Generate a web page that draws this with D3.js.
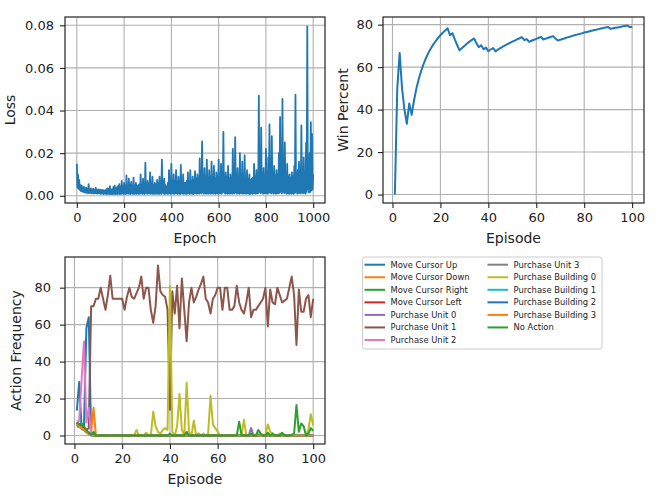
<!DOCTYPE html>
<html>
<head>
<meta charset="utf-8">
<script src="https://cdn.jsdelivr.net/npm/d3@7"></script>
<style>
body { margin: 0; background: #fff; }
text { font-family: "DejaVu Sans", sans-serif; }
</style>
</head>
<body>
<svg id="mainsvg" width="664" height="496"></svg>
<script>
// loss: upper values every 5 epochs (0..1000)
const lossPeaks = [
  0.0150,0.0100,0.0075,0.0050,0.0048,0.0040,0.0042,0.0035,0.0038,0.0032,
  0.0055,0.0030,0.0035,0.0030,0.0032,0.0028,0.0038,0.0027,0.0030,0.0028,
  0.0029,0.0026,0.0027,0.0025,0.0025,0.0030,0.0035,0.0032,0.0045,0.0030,
  0.0030,0.0042,0.0048,0.0035,0.0040,0.0045,0.0055,0.0040,0.0070,0.0045,
  0.0060,0.0050,0.0095,0.0045,0.0080,0.0050,0.0065,0.0045,0.0085,0.0050,
  0.0060,0.0045,0.0050,0.0055,0.0100,0.0050,0.0080,0.0055,0.0155,0.0060,
  0.0070,0.0055,0.0110,0.0060,0.0090,0.0050,0.0060,0.0055,0.0075,0.0060,
  0.0090,0.0065,0.0170,0.0070,0.0080,0.0050,0.0040,0.0060,0.0120,0.0070,
  0.0150,0.0065,0.0100,0.0070,0.0120,0.0065,0.0090,0.0070,0.0145,0.0065,
  0.0100,0.0060,0.0060,0.0070,0.0110,0.0065,0.0120,0.0070,0.0090,0.0075,
  0.0115,0.0080,0.0100,0.0085,0.0175,0.0080,0.0255,0.0090,0.0130,0.0085,
  0.0170,0.0080,0.0120,0.0090,0.0160,0.0085,0.0140,0.0080,0.0110,0.0090,
  0.0170,0.0085,0.0150,0.0090,0.0300,0.0085,0.0110,0.0090,0.0140,0.0080,
  0.0100,0.0085,0.0220,0.0090,0.0275,0.0095,0.0130,0.0085,0.0200,0.0090,
  0.0160,0.0090,0.0190,0.0085,0.0120,0.0080,0.0100,0.0075,0.0080,0.0085,
  0.0150,0.0090,0.0120,0.0095,0.0470,0.0100,0.0320,0.0095,0.0130,0.0100,
  0.0220,0.0110,0.0180,0.0335,0.0100,0.0280,0.0110,0.0140,0.0095,0.0120,
  0.0100,0.0200,0.0370,0.0110,0.0455,0.0120,0.0250,0.0100,0.0150,0.0090,
  0.0100,0.0085,0.0110,0.0090,0.0140,0.0475,0.0095,0.0120,0.0160,0.0100,
  0.0330,0.0110,0.0180,0.0100,0.0250,0.0795,0.0120,0.0200,0.0345,0.0290,
  0.0100
];
// lower values in between (epochs 2.5, 7.5, ... 997.5)
const lossTroughs = [
  0.0040,0.0032,0.0028,0.0022,0.0020,0.0018,0.0016,0.0015,0.0014,0.0013,
  0.0012,0.0014,0.0011,0.0013,0.0010,0.0012,0.0011,0.0010,0.0012,0.0010,
  0.0009,0.0011,0.0008,0.0010,0.0009,0.0008,0.0010,0.0007,0.0009,0.0008,
  0.0008,0.0010,0.0007,0.0009,0.0008,0.0010,0.0007,0.0009,0.0011,0.0008,
  0.0010,0.0008,0.0012,0.0009,0.0010,0.0008,0.0011,0.0009,0.0008,0.0010,
  0.0009,0.0011,0.0008,0.0010,0.0012,0.0009,0.0010,0.0008,0.0014,0.0010,
  0.0010,0.0012,0.0009,0.0011,0.0008,0.0010,0.0009,0.0012,0.0010,0.0008,
  0.0011,0.0009,0.0015,0.0010,0.0008,0.0011,0.0009,0.0010,0.0012,0.0009,
  0.0012,0.0010,0.0009,0.0011,0.0013,0.0009,0.0010,0.0008,0.0012,0.0010,
  0.0009,0.0011,0.0008,0.0010,0.0012,0.0009,0.0011,0.0010,0.0008,0.0012,
  0.0011,0.0009,0.0012,0.0010,0.0014,0.0011,0.0016,0.0010,0.0012,0.0009,
  0.0011,0.0010,0.0012,0.0009,0.0013,0.0010,0.0011,0.0009,0.0012,0.0010,
  0.0011,0.0013,0.0010,0.0015,0.0018,0.0010,0.0012,0.0009,0.0011,0.0010,
  0.0012,0.0010,0.0014,0.0011,0.0016,0.0010,0.0012,0.0009,0.0013,0.0011,
  0.0010,0.0012,0.0011,0.0009,0.0012,0.0010,0.0008,0.0011,0.0009,0.0012,
  0.0011,0.0010,0.0012,0.0013,0.0018,0.0012,0.0016,0.0010,0.0011,0.0013,
  0.0012,0.0010,0.0014,0.0016,0.0011,0.0015,0.0010,0.0012,0.0009,0.0011,
  0.0012,0.0014,0.0018,0.0011,0.0020,0.0013,0.0015,0.0010,0.0012,0.0009,
  0.0011,0.0010,0.0012,0.0009,0.0013,0.0020,0.0010,0.0012,0.0014,0.0011,
  0.0016,0.0012,0.0014,0.0010,0.0018,0.0030,0.0015,0.0018,0.0025,0.0030
];
const lossStep = 5;

// running win percentage, episodes 1..100
const winPercent = [
  0,50,66.7,50,40,33.3,42.9,37.5,44.4,50,
  54.5,58.3,61.5,64.3,66.7,68.8,70.6,72.2,73.7,75,
  76.2,77.3,78.3,75,76,73.1,70.4,67.9,69,70,
  71,71.9,72.7,73.5,71.4,69.4,70.3,68.4,69.2,67.5,
  68.3,69,67.4,68.2,68.9,69.6,70.2,70.8,71.4,72,
  72.5,73.1,73.6,74.1,72.7,73.2,71.9,72.4,72.9,73.3,
  73.8,74.2,73,73.4,73.8,74.2,74.6,73.5,72.5,72.9,
  73.2,73.6,74,74.3,74.7,75,75.3,75.6,75.9,76.3,
  76.5,76.8,77.1,77.4,77.6,77.9,78.2,78.4,78.7,78.9,
  78,78.3,78.5,78.7,78.9,79.2,79.4,79.6,78.8,79
];

// action frequency per episode, 1..100
const moveCursorUp = [
  13.5,29,4,5,58,64,0,0,0,0,
  0,0,0,0,0,0,0,0,0,0, 0,0,0,0,0,0,0,0,0,0, 0,0,0,0,0,0,0,0,0,0,
  0,0,0,0,0,0,0,0,0,0, 0,0,0,0,0,0,0,0,0,0, 0,0,0,0,0,0,0,0,0,0,
  0,0,0,0,0,0,0,0,0,0, 0,0,0,0,0,0,0,0,0,0, 0,0,0,0,0,0,0,0,0,0
];
const moveCursorDown = [
  7,6,5,4,3,1,2,15,0,0,
  0,0,0,0,0,0,0,0,0,0, 0,0,0,0,0,0,0,0,0,0, 0,0,0,0,0,0,0,0,0,0,
  0,0,0,0,0,0,0,0,0,0, 0,0,0,0,0,0,0,0,0,0, 0,0,0,0,0,0,0,0,0,0,
  0,0,0,0,0,0,0,0,0,0, 0,0,0,0,0,0,0,0,0,0, 0,0,0,0,0,0,0,0,0,0
];
const moveCursorRight = [
  7,6,6.5,4,2.5,1.5,0.5,2,0,0,
  0,0,0,0,0,0,0,0,0,0, 0,0,0,0,0,0,0,0,0,0, 0,0,0,0,0,0,0,0,0,0,
  0,0,0,0,0,0,0,0,0,0, 0,0,0,0,0,0,0,0,0,0, 0,0,0,0,0,0,0,0,0,0,
  0,0,0,0,0,0,0,0,0,0, 0,0,0,0,0,0,0,0,0,0, 0,0,0,0,0,0,0,0,0,0
];
const moveCursorLeft = [
  6,5,4,3,2,1,0.5,0,0,0,
  0,0,0,0,0,0,0,0,0,0, 0,0,0,0,0,0,0,0,0,0, 0,0,0,0,0,0,0,0,0,0,
  0,0,0,0,0,0,0,0,0,0, 0,0,0,0,0,0,0,0,0,0, 0,0,0,0,0,0,0,0,0,0,
  0,0,0,0,0,0,0,0,0,0, 0,0,0,0,0,0,0,0,0,0, 0,0,0,0,0,0,0,0,0,0
];
const purchaseUnit0 = [
  6,5.5,4,3,2,1,0.5,0,0,0,
  0,0,0,0,0,0,0,0,0,0, 0,0,0,0,0,0,0,0,0,0, 0,0,0,0,0,0,0,0,0,0,
  0,0,0,0,0,0,0,0,0,0, 0,1,0,0,0,0,0,0,0,0, 0,0,0,0,0,0,0,0,0,0,
  0,0,0,4,0,0,0,0,0,0, 0,0,0,0,0,0,0,0,0,0, 0,0,0,0,0,0,0,0,0,0
];
const purchaseUnit1 = [
  7,6,5,4,3,4,70,70,74,74,
  80,74,68,76,86.5,74,74,74,74,74,
  68,75,80,75,74,77,80,86,74,80,
  80,68,61,70,92,78,76,75,68,14,
  78,66,81,58,85,68,51,72,80,72,
  75,79,82,86,74,72,66,74,76,80,
  80,68,80,80,68,68,70,81,72,68,
  66,72,80,64,68,68,70,72,74,80,
  59,79,72,71,80,76,72,73,74,80,
  86,76,49,79,67,67,74,76,64,74
];
const purchaseUnit2 = [
  7.5,8,30,51,7,15,0,0,0,0,
  0,0,0,0,0,0,0,0,0,0, 0,0,0,0,0,0,0,0,0,0, 0,0,0,0,0,0,0,0,0,0,
  0,0,0,0,0,0,0,0,0,0, 0,0,0,0,0,0,0,0,0,0, 0,0,0,0,0,0,0,0,0,0,
  0,0,0,0,0,0,0,0,0,0, 0,0,0,0,0,0,0,0,0,0, 0,0,0,0,0,0,0,0,0,0
];
const purchaseUnit3 = [
  6,5,4,3,2,1,0.5,0,0,0,
  0,0,0,0,0,0,0,0,0,0, 0,0,0,0,0,0,0,0,0,0, 0,0,0,0,0,0,0,0,0,0,
  0,0,0,0,0,0,0,0,0,0, 0,0,0,0,0,0,0,0,0,0, 0,0,0,0,0,0,0,0,0,0,
  0,0,0,0,0,0,0,0,0,0, 0,0,0,0,0,0,0,0,0,0, 0,0,0,0,0,0,0,0,0,0
];
const purchaseBuilding0 = [
  6,5,4,3,2,1,0.5,0,0,0,
  0,0,0,0,0,0,0,0,0,0,
  0,0,0,0,0,3,0,0,0,1.5,
  0,0,13,5,2,1,3,4,3,81,
  2,0,5,22.5,3,0,28.5,2,0,8,
  0,1,0,1,0,1,21.5,6,4,2,
  0,0,0,0,0,0,0,0,0,0,
  8.5,0,0,0,0,0,1,0,0,0,
  6,2,1,0,0,1,0,0,0,0,
  0,0,0,0,0,0,0,3,11.5,5.5
];
const purchaseBuilding1 = [
  5,4.5,4,3,2,1,0.5,0,0,0,
  0,0,0,0,0,0,0,0,0,0, 0,0,0,0,0,0,0,0,0,0, 0,0,0,0,0,0,0,0,0,0,
  0,0,0,0,0,0,0,0,0,0, 0,0,0,0,0,0,0,0,0,0, 0,0,0,0,0,0,0,0,0,0,
  0,0,0,0,0,0,0,0,0,0, 0,0,0,0,0,0,0,0,0,0, 0,0,0,0,0,0,0,0,0,0
];
const purchaseBuilding2 = [
  5.5,5,4,3,2,1,0.5,0,0,0,
  0,0,0,0,0,0,0,0,0,0, 0,0,0,0,0,0,0,0,0,0, 0,0,0,0,0,0,0,0,0,0,
  0,0,0,0,0,0,0,0,0,0, 0,0,0,0,0,0,0,0,0,0, 0,0,0,0,0,0,0,0,0,0,
  0,0,0,0,0,0,0,0,0,0, 0,0,0,0,0,0,0,0,0,0, 0,0,0,0,0,0,0,0,0,0
];
const purchaseBuilding3 = [
  6,5,4,3,2,1,0.5,0,0,0,
  0,0,0,0,0,0,0,0,0,0, 0,0,0,0,0,0,0,0,0,0, 0,0,0,0,0,0,0,0,0,0,
  0,0,0,0,0,0,0,0,0,0, 0,0,0,0,0,0,0,0,0,0, 0,0,0,0,0,0,0,0,0,0,
  0,0,0,0,0,0,0,0,0,0, 0,0,0,0,0,0,0,0,0,0, 0,0,0,0,0,0,0,0,0,0
];
const noAction = [
  7,6,6,5,3,1.5,0.5,1.5,0,0,
  0,0,0,0,0,0,0,0,0,0,
  0,0,0,0,0,0,0,0,0,0,
  0,0,0,0,0,0,0,0,0,1,
  0,0,0,0,0,0,2,0,0,0,
  0,0,0,0,0,0,0,0,0,0,
  0,0,0,0,0,0,0,0,7.5,0,
  0,0,0,1,0,0,3,1,0,0,
  1.5,0,1,0,0,0,1.5,0,0,0,
  0.5,1,16.5,2,6.5,5,0,1,4,2.5
];

const actionNames = [
  'Move Cursor Up', 'Move Cursor Down', 'Move Cursor Right', 'Move Cursor Left',
  'Purchase Unit 0', 'Purchase Unit 1', 'Purchase Unit 2', 'Purchase Unit 3',
  'Purchase Building 0', 'Purchase Building 1', 'Purchase Building 2', 'Purchase Building 3',
  'No Action'
];
const actionValues = [
  moveCursorUp, moveCursorDown, moveCursorRight, moveCursorLeft,
  purchaseUnit0, purchaseUnit1, purchaseUnit2, purchaseUnit3,
  purchaseBuilding0, purchaseBuilding1, purchaseBuilding2, purchaseBuilding3,
  noAction
];
const actionColors = [
  '#1f77b4', '#ff7f0e', '#2ca02c', '#d62728', '#9467bd', '#8c564b', '#e377c2',
  '#7f7f7f', '#bcbd22', '#17becf', '#1f77b4', '#ff7f0e', '#2ca02c'
];

const lossXTicks = [0, 200, 400, 600, 800, 1000];
const lossYTicks = [0, 0.02, 0.04, 0.06, 0.08];
const episodeTicks = [0, 20, 40, 60, 80, 100];
const percentTicks = [0, 20, 40, 60, 80];

const svg = d3.select('#mainsvg');
const lineColor = '#1f77b4';

// peaks and troughs interleaved into one series
const lossSeries = [];
lossPeaks.forEach((p, i) => {
  lossSeries.push({ epoch: i * lossStep, value: p });
  if (i < lossTroughs.length) lossSeries.push({ epoch: i * lossStep + lossStep / 2, value: lossTroughs[i] });
});

function panel(box, xDomain, yDomain, xTicks, yTicks, yFormat, yPad, xLabel, yLabel, yLabelX) {
  const g = svg.append('g').attr('transform', `translate(${box.x}, ${box.y})`);
  const x = d3.scaleLinear().domain(xDomain).range([0, box.w]);
  const y = d3.scaleLinear().domain(yDomain).range([box.h, 0]);

  const grid = g.append('g').attr('stroke', '#b0b0b0').attr('stroke-width', 1.1);
  grid.selectAll('.vx').data(xTicks).join('line').attr('class', 'vx')
    .attr('x1', d => x(d)).attr('x2', d => x(d)).attr('y1', 0).attr('y2', box.h);
  grid.selectAll('.hy').data(yTicks).join('line').attr('class', 'hy')
    .attr('y1', d => y(d)).attr('y2', d => y(d)).attr('x1', 0).attr('x2', box.w);

  const plot = g.append('g');
  const top = g.append('g');

  const xAxis = top.append('g').attr('transform', `translate(0, ${box.h})`)
    .call(d3.axisBottom(x).tickValues(xTicks).tickSize(5).tickPadding(5).tickFormat(d3.format('d')));
  const yAxis = top.append('g')
    .call(d3.axisLeft(y).tickValues(yTicks).tickSize(5).tickPadding(yPad).tickFormat(yFormat));
  [xAxis, yAxis].forEach(a => {
    a.select('.domain').remove();
    a.selectAll('line').attr('stroke', '#222').attr('stroke-width', 1.1);
    a.selectAll('text').attr('font-size', 13).attr('fill', '#222')
      .attr('font-family', '"DejaVu Sans", sans-serif');
  });

  top.append('rect').attr('width', box.w).attr('height', box.h)
    .attr('fill', 'none').attr('stroke', '#222').attr('stroke-width', 1.2);

  top.append('text').attr('x', box.w / 2).attr('y', box.h + 40)
    .attr('text-anchor', 'middle').attr('font-size', 14).attr('fill', '#222').text(xLabel);
  top.append('text').attr('transform', `translate(${yLabelX}, ${box.h / 2}) rotate(-90)`)
    .attr('text-anchor', 'middle').attr('font-size', 14).attr('fill', '#222').text(yLabel);

  return { plot, x, y };
}

// Loss
const p1 = panel({ x: 65, y: 17, w: 260, h: 186 }, [-50, 1050], [-0.0034, 0.0839],
  lossXTicks, lossYTicks, d3.format('.2f'), 6, 'Epoch', 'Loss', -50);
p1.plot.append('path').datum(lossSeries)
  .attr('fill', 'none').attr('stroke', lineColor).attr('stroke-width', 1.8)
  .attr('stroke-linejoin', 'round')
  .attr('d', d3.line().x(d => p1.x(d.epoch)).y(d => p1.y(d.value)));

// Win percent
const p2 = panel({ x: 383, y: 17, w: 261, h: 186 }, [-3.95, 104.95], [-3.98, 83.6],
  episodeTicks, percentTicks, d3.format('d'), 5, 'Episode', 'Win Percent', -35);
p2.plot.append('path').datum(winPercent)
  .attr('fill', 'none').attr('stroke', lineColor).attr('stroke-width', 2)
  .attr('stroke-linejoin', 'round')
  .attr('d', d3.line().x((d, i) => p2.x(i + 1)).y(d => p2.y(d)));

// Action frequency
const p3 = panel({ x: 65, y: 257, w: 260, h: 187 }, [-3.95, 104.95], [-4.6, 96.6],
  episodeTicks, percentTicks, d3.format('d'), 9, 'Episode', 'Action Frequency', -44);
p3.plot.selectAll('path').data(actionValues).join('path')
  .attr('fill', 'none')
  .attr('stroke', (d, i) => actionColors[i])
  .attr('stroke-width', 2)
  .attr('stroke-linejoin', 'round')
  .attr('d', d3.line().x((d, i) => p3.x(i + 1)).y(d => p3.y(d)));

// Legend
const legend = svg.append('g').attr('transform', 'translate(362.5, 257)');
legend.append('rect').attr('width', 239.5).attr('height', 92).attr('rx', 2.5)
  .attr('fill', '#fff').attr('fill-opacity', 0.8)
  .attr('stroke', '#cccccc').attr('stroke-width', 1);
const items = legend.selectAll('.item').data(actionNames).join('g').attr('class', 'item')
  .attr('transform', (d, i) => `translate(${i < 7 ? 2 : 125}, ${7.7 + (i % 7) * 12.55})`);
items.append('line').attr('x1', 0).attr('x2', 20.5)
  .attr('stroke', (d, i) => actionColors[i]).attr('stroke-width', 2);
items.append('text').attr('x', 26).attr('dy', '0.35em')
  .attr('font-size', 8.4).attr('fill', '#222').text(d => d);
</script>
</body>
</html>
